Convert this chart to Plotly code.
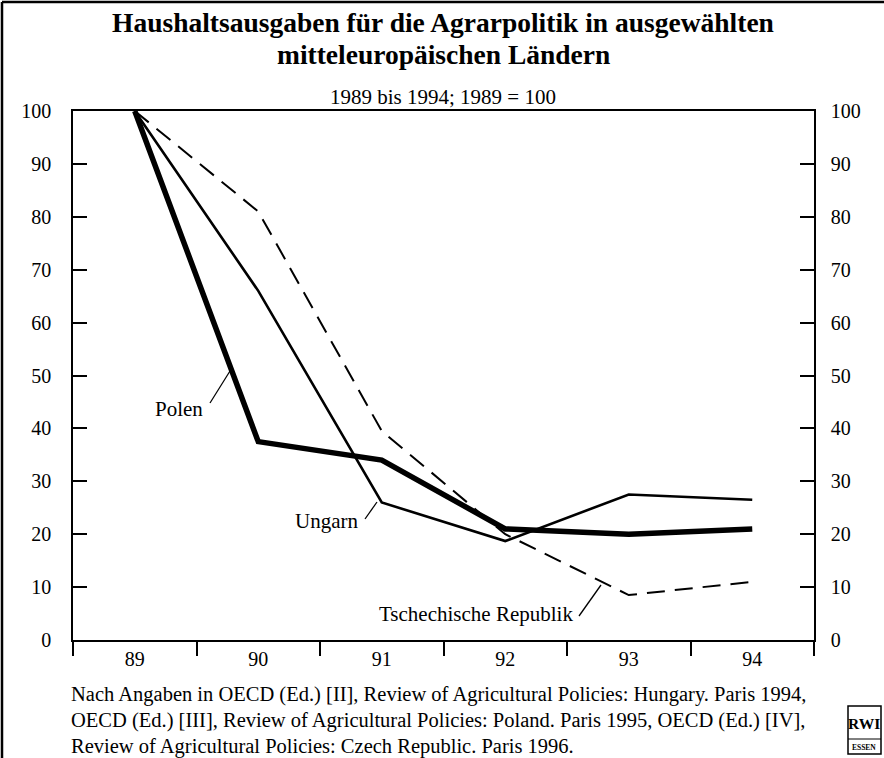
import plotly.graph_objects as go

years = ["89", "90", "91", "92", "93", "94"]
polen = [100, 37.5, 34, 21, 20, 21]
ungarn = [100, 66, 26, 18.7, 27.5, 26.5]
tschechien = [100, 81, 39.5, 20, 8.5, 11]
y_ticks = [0, 10, 20, 30, 40, 50, 60, 70, 80, 90, 100]

FONT = "Liberation Serif"
W, H = 884, 758
L, R, T, B = 73, 70, 111, 118

fig = go.Figure()
fig.add_trace(go.Scatter(x=years, y=tschechien, mode="lines", name="Tschechische Republik",
                         line=dict(color="black", width=2, dash="18px,10px"), hoverinfo="skip"))
fig.add_trace(go.Scatter(x=years, y=ungarn, mode="lines", name="Ungarn",
                         line=dict(color="black", width=2.6), hoverinfo="skip"))
fig.add_trace(go.Scatter(x=years, y=polen, mode="lines", name="Polen",
                         line=dict(color="black", width=5.5), hoverinfo="skip"))
# invisible trace to activate the right-hand axis
fig.add_trace(go.Scatter(x=years, y=polen, mode="lines", yaxis="y2", showlegend=False,
                         line=dict(color="rgba(0,0,0,0)", width=0), hoverinfo="skip"))

yax = dict(range=[0, 100], tickvals=y_ticks, ticks="inside", ticklen=14, tickwidth=1.5,
           tickcolor="black", showgrid=False, zeroline=False, showline=True, linecolor="black",
           linewidth=1.5, tickfont=dict(family=FONT, size=20, color="black"))

fig.update_layout(
    width=W, height=H,
    margin=dict(l=L, r=R, t=T, b=B),
    paper_bgcolor="white", plot_bgcolor="white",
    showlegend=False,
    xaxis=dict(type="category", range=[-0.5, 5.5], tickson="boundaries", ticks="outside",
               ticklen=14, tickwidth=1.5, tickcolor="black", showgrid=False, showline=True,
               linecolor="black", linewidth=1.5, mirror=True,
               tickfont=dict(family=FONT, size=20, color="black")),
    yaxis=dict(**yax, side="left", ticklabelstandoff=16),
    yaxis2=dict(**yax, side="right", overlaying="y", ticklabelstandoff=11),
)

def px_to_x(px):
    return (px - L) / ((W - L - R) / 6) - 0.5

def py_to_y(py):
    return (H - B - py) / ((H - T - B) / 100)

def paper_y(py):
    return (H - B - py) / (H - T - B)

def paper_x(px):
    return (px - L) / (W - L - R)

# leader lines
for (x0, y0, x1, y1) in [(210, 403, 230, 371), (365, 519, 377, 502), (579, 616, 601, 585)]:
    fig.add_shape(type="line", x0=px_to_x(x0), y0=py_to_y(y0), x1=px_to_x(x1), y1=py_to_y(y1),
                  line=dict(color="black", width=1.3))

labels = [("Polen", 179, 409), ("Ungarn", 326, 521), ("Tschechische Republik", 476, 614)]
for txt_, px, py in labels:
    fig.add_annotation(x=px_to_x(px), y=py_to_y(py), text=txt_, showarrow=False,
                       xanchor="center", yanchor="middle",
                       font=dict(family=FONT, size=21, color="black"))

def txt(text, px, py, size, xanchor="center"):
    fig.add_annotation(xref="paper", yref="paper", x=paper_x(px), y=paper_y(py),
                       xanchor=xanchor, yanchor="middle", text=text, showarrow=False,
                       borderpad=0, font=dict(family=FONT, size=size, color="black"))

txt("<b>Haushaltsausgaben für die Agrarpolitik in ausgewählten</b>", 443, 23, 27.5)
txt("<b>mitteleuropäischen Ländern</b>", 443, 54, 27.5)
txt("1989 bis 1994; 1989 = 100", 443, 97, 21)

foot = ["Nach Angaben in OECD (Ed.) [II], Review of Agricultural Policies: Hungary. Paris 1994,",
        "OECD (Ed.) [III], Review of Agricultural Policies: Poland. Paris 1995, OECD (Ed.) [IV],",
        "Review of Agricultural Policies: Czech Republic. Paris 1996."]
for i, line in enumerate(foot):
    txt(line, 70, 694 + 26 * i, 20.5, xanchor="left")

# logo
fig.add_shape(type="rect", xref="paper", yref="paper", x0=paper_x(848), x1=paper_x(881),
              y0=paper_y(706), y1=paper_y(754), line=dict(color="black", width=1.5))
fig.add_shape(type="line", xref="paper", yref="paper", x0=paper_x(848), x1=paper_x(881),
              y0=paper_y(739), y1=paper_y(739), line=dict(color="black", width=1))
txt("<b>RWI</b>", 864.5, 723, 15.5)
txt("<b>ESSEN</b>", 864.5, 747, 7.5)

# frame lines (left and top)
fig.add_shape(type="line", xref="paper", yref="paper", x0=paper_x(2), x1=paper_x(2),
              y0=paper_y(2), y1=paper_y(758), line=dict(color="black", width=2.5))
fig.add_shape(type="line", xref="paper", yref="paper", x0=paper_x(2), x1=paper_x(884),
              y0=paper_y(2), y1=paper_y(2), line=dict(color="black", width=2.5))

fig.write_html("out.html", config={"displayModeBar": False},
               post_script="document.body.style.margin='0';document.body.style.overflow='hidden';")
